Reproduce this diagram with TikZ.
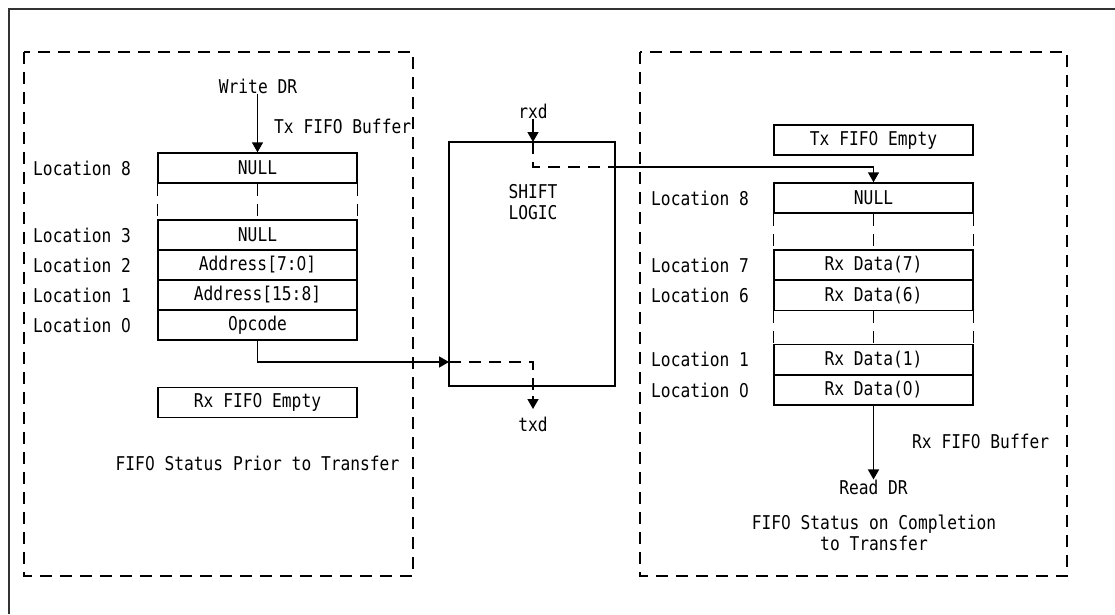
\documentclass[tikz,border=0pt]{standalone}
\usepackage{fontspec}
\setmainfont{DejaVu Sans Mono}[FakeStretch=0.855]
\newfontfamily\zerofont{DejaVu Sans}[FakeStretch=0.81]
\newcommand{\zr}{{\zerofont 0}}
\usetikzlibrary{arrows.meta}
\tikzset{
  txt/.style={font=\fontsize{19}{21}\selectfont, inner sep=0pt},
  cell/.style={draw, line width=1.4pt, minimum width=199pt, minimum height=30pt, inner sep=0pt, font=\fontsize{19}{21}\selectfont},
  lbl/.style={txt, anchor=west},
  arr/.style={line width=1.4pt, -{Triangle[length=10pt,width=11pt]}},
  conn/.style={line width=1.4pt},
  dsh/.style={line width=1.4pt, dash pattern=on 12pt off 8pt},
  frame/.style={line width=1.4pt, dash pattern=on 12pt off 8pt}
}
\begin{document}
\begin{tikzpicture}[x=1pt,y=-1pt]
\useasboundingbox (0,0) rectangle (1115,614);
% outer frame (top and left)
\draw[line width=2pt, black!80] (1115,9) -- (8.5,9) -- (8.5,614);
% dashed panels
\draw[frame] (24,52) rectangle (413,576);
\draw[frame] (640,52) rectangle (1067,576);

% ---------- left panel ----------
\node[txt] (wdr) at (258,86) {Write DR};
\node[lbl] (txbuf) at (274,126) {Tx FIFO Buffer};
\node[cell] (l8) at (257.5,168) {NULL};
\node[cell] (l3) at (257.5,235) {NULL};
\node[cell] (l2) at (257.5,265) {Address[7:\zr]};
\node[cell] (l1) at (257.5,295) {Address[15:8]};
\node[cell] (l0) at (257.5,325) {\zr pcode};
\node[lbl] (ll8) at (33,168) {Location 8};
\node[lbl] (ll3) at (33,235) {Location 3};
\node[lbl] (ll2) at (33,265) {Location 2};
\node[lbl] (ll1) at (33,295) {Location 1};
\node[lbl] (ll0) at (33,325) {Location \zr};
\draw[dsh] (l8.south west) -- (l3.north west);
\draw[dsh] (l8.south) -- (l3.north);
\draw[dsh] (l8.south east) -- (l3.north east);
\node[cell] (rxe) at (257.5,402.5) {Rx FIF\zr{} Empty};
\node[txt] (lstat) at (257.5,463) {FIF\zr{} Status Prior to Transfer};
\draw[arr] (l8.north |- wdr.south) -- (l8.north);

% ---------- shift logic ----------
\node[draw, line width=1.4pt, minimum width=166pt, minimum height=244pt, inner sep=0pt] (shift) at (532,264) {};
\node[txt, align=center] (shtxt) at (533,202) {SHIFT\\LOGIC};
\node[txt] (rxd) at (533,111) {rxd};
\node[txt] (txd) at (533,424) {txd};
\coordinate (rin) at (533,142);
\coordinate (rout) at (615,167);
\coordinate (tin) at (449,362);
\coordinate (tout) at (533,409);
\draw[arr] (rxd.south) -- (rin);
\draw[dsh] (rin) |- (rout);
\draw[dsh] (tin) -| (533,398);
\draw[arr] (533,396) -- (tout);
\draw[arr] (l0.south) |- (tin);

% ---------- right panel ----------
\node[cell] (txe) at (873.5,140) {Tx FIF\zr{} Empty};
\node[cell] (r8) at (873.5,198) {NULL};
\node[cell] (r7) at (873.5,265) {Rx Data(7)};
\node[cell] (r6) at (873.5,295.5) {Rx Data(6)};
\node[cell] (r1) at (873.5,359.5) {Rx Data(1)};
\node[cell] (r0) at (873.5,390) {Rx Data(\zr)};
\node[lbl] (lr8) at (651,198) {Location 8};
\node[lbl] (lr7) at (651,265) {Location 7};
\node[lbl] (lr6) at (651,295.5) {Location 6};
\node[lbl] (lr1) at (651,359.5) {Location 1};
\node[lbl] (lr0) at (651,390) {Location \zr};
\draw[dsh] (r8.south west) -- (r7.north west);
\draw[dsh] (r8.south) -- (r7.north);
\draw[dsh] (r8.south east) -- (r7.north east);
\draw[dsh] (r6.south west) -- (r1.north west);
\draw[dsh] (r6.south) -- (r1.north);
\draw[dsh] (r6.south east) -- (r1.north east);
\draw[arr] (rout) -| (r8.north);
\node[lbl] (rxbuf) at (912,441) {Rx FIF\zr{} Buffer};
\node[txt] (rdr) at (873.5,487) {Read DR};
\draw[arr] (r0.south) -- (r0.south |- rdr.north);
\node[txt, align=center] (rstat) at (874,533) {FIF\zr{} Status on Completion\\to Transfer};
\end{tikzpicture}
\end{document}
